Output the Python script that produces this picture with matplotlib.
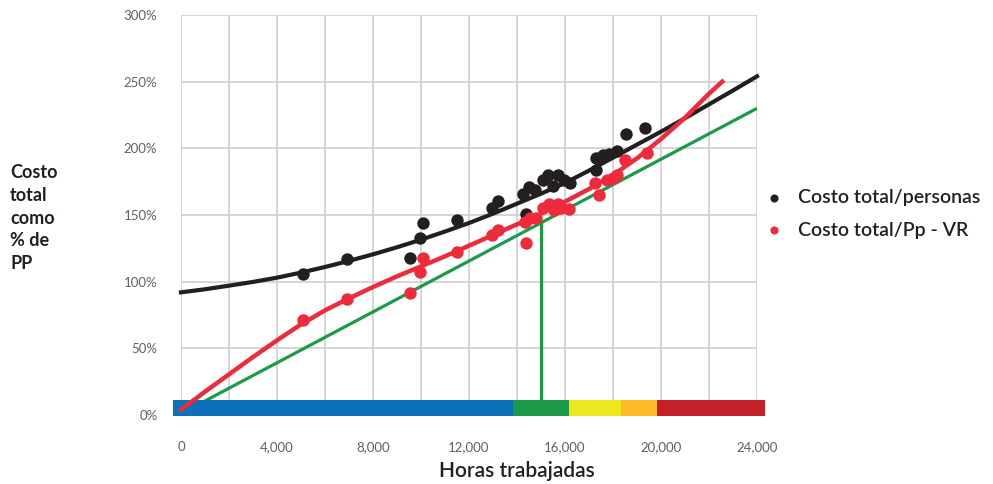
import matplotlib.pyplot as plt
import numpy as np

# scatter points (hours, % of PP)
black_x = [5100, 6900, 9550, 9950, 10100, 11500, 12950, 13200, 14250, 14375, 14500, 14750,
           15100, 15300, 15500, 15700, 15950, 16200, 17300, 17300, 17600, 17850, 18150, 18550, 19350]
black_y = [106, 117, 118, 132.5, 144, 146, 155, 160.5, 166, 150.5, 171, 169,
           176, 180, 172, 180, 176, 174, 192.5, 184, 195, 196, 198, 211, 215]

red_x = [5100, 6900, 9550, 9950, 10100, 11500, 12950, 13200, 14350, 14375, 14550, 14800,
         15100, 15350, 15550, 15700, 15850, 16150, 17250, 17400, 17750, 18000, 18150, 18500, 19400]
red_y = [71, 87, 91.5, 107.5, 118, 122.5, 135, 139, 145, 129, 148, 147.5,
         155.5, 158.5, 154, 158.5, 155, 154.5, 174, 165, 176, 177.5, 180, 191.5, 196.5]

# trend curves
black_curve_x = [0, 1000, 2000, 3000, 4000, 5000, 6000, 7000, 8000, 9000, 10000, 11000, 12000,
                 13000, 14000, 15000, 16000, 17000, 18000, 19000, 20000, 21000, 22000, 23000, 24000]
black_curve_y = [92, 94.3, 97, 99.8, 103, 106.8, 111, 115.6, 120.5, 125.8, 131.5, 137.6, 144,
                 151, 158.5, 166, 174, 183.3, 193, 202.8, 212.5, 222.6, 233, 243.4, 254]

red_curve_x = [0, 1000, 2000, 3000, 4000, 5000, 6000, 7000, 8000, 9000, 10000, 11000, 12000,
               13000, 14000, 15000, 16000, 17000, 18000, 19000, 20000, 21000, 22000, 22550]
red_curve_y = [4, 17.5, 30.5, 43.5, 56, 68, 78.5, 87.5, 96, 104, 111.5, 119, 127,
               135, 143, 151, 160, 169.5, 180, 192.5, 207, 223, 241, 250]

green_x = [0, 24000]
green_y = [1, 230]
marker_x = 15000
marker_top = 144

# zone bar along the bottom
zone_edges = [-330, 13830, 16170, 18330, 19830, 24330]
zone_colors = ['#0b72b9', '#1c9a48', '#ece81f', '#fdb927', '#c4202a']

x_ticks = [0, 4000, 8000, 12000, 16000, 20000, 24000]
y_ticks = [0, 50, 100, 150, 200, 250, 300]

plt.rcParams['font.family'] = ['Lato', 'DejaVu Sans']

fig = plt.figure(figsize=(9.93, 4.84), dpi=100)
ax = fig.add_axes([181 / 993, 1 - 415 / 484, 576 / 993, 400 / 484])

ax.set_xlim(0, 24000)
ax.set_ylim(0, 300)
ax.set_yticks(np.arange(0, 301, 50))
ax.grid(True, color='#d2d2d4', linewidth=1.3, zorder=0)
ax.set_axisbelow(True)
for s in ax.spines.values():
    s.set_visible(False)
ax.tick_params(length=0, labelsize=9.5, labelcolor='#606060')
ax.tick_params(axis='x', pad=19)
ax.tick_params(axis='y', pad=17)
ax.set_xticks(np.arange(0, 24001, 2000))
ax.set_xticklabels(['{:,}'.format(v) if v in x_ticks else '' for v in np.arange(0, 24001, 2000)])
ax.set_yticklabels([f'{v}%' for v in y_ticks])

# lines
ax.plot(green_x, green_y, color='#1c9a48', linewidth=2.3, zorder=2, solid_capstyle='butt')
ax.plot([marker_x, marker_x], [10, marker_top], color='#1c9a48', linewidth=2.3, zorder=2)
ax.plot(black_curve_x, black_curve_y, color='#231f20', linewidth=3, zorder=4, clip_on=False)
ax.plot(red_curve_x, red_curve_y, color='#ee2b3b', linewidth=3.2, zorder=4, clip_on=False)

# bar
for i, c in enumerate(zone_colors):
    ax.fill_between([zone_edges[i], zone_edges[i + 1]], -1, 11.2, color=c,
                    linewidth=0, zorder=3, clip_on=False)

ax.scatter(black_x, black_y, s=80, color='#231f20', zorder=5, linewidths=0, label='Costo total/personas')
ax.scatter(red_x, red_y, s=80, color='#ee2b3b', zorder=5, linewidths=0, label='Costo total/Pp - VR')

leg = ax.legend(loc='upper left', bbox_to_anchor=(764 / 993, 1 - 189 / 484), bbox_transform=fig.transFigure,
                frameon=False, fontsize=14, handletextpad=0.75, markerscale=0.65,
                labelspacing=0.8, handlelength=1.0, borderaxespad=0, borderpad=0)
for t in leg.get_texts():
    t.set_color('#231f20')
    t.set_fontweight('semibold')

fig.text(517 / 993, 1 - 471 / 484, 'Horas trabajadas', ha='center', va='center',
         fontsize=15, fontweight='semibold', color='#231f20')
fig.text(10 / 993, 1 - 218 / 484, 'Costo\ntotal\ncomo\n% de\nPP', ha='left', va='center',
         fontsize=13, fontweight='bold', color='#231f20', linespacing=1.42)

fig.savefig('out.png', dpi=100)
